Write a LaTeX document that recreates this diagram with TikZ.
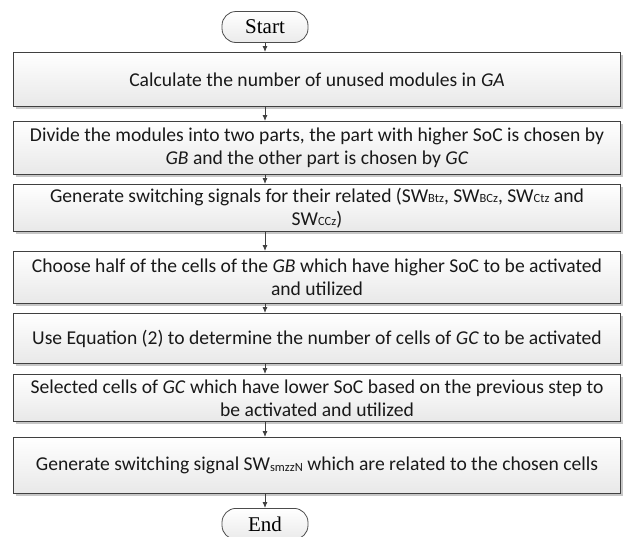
\documentclass[tikz,border=0pt]{standalone}
\usepackage{fontspec}
\setmainfont{Carlito}
\newfontfamily\tnr{Liberation Serif}
\usetikzlibrary{arrows.meta,shadows,positioning}
\tikzset{stepbox/.style={draw=black!75, line width=1.1pt, rectangle, anchor=north,
  minimum width=607pt, align=center, inner sep=0pt,
  top color=white, bottom color=black!9,
  drop shadow={shadow xshift=2.5pt, shadow yshift=-2.5pt, fill=black!22, opacity=1},
  text=black!90, font=\fontsize{19.6}{23}\selectfont},
  term/.style={draw=black!70, line width=0.8pt, rounded corners=14pt,
  minimum width=86pt, minimum height=31pt, inner sep=0pt,
  top color=white, bottom color=black!8,
  font=\tnr\fontsize{21}{22}\selectfont},
  arr/.style={draw=black!75, line width=0.9pt, -{Latex[length=6pt,width=5pt]}}}
\newcommand{\swsub}[1]{SW\raisebox{-0.5pt}{\fontsize{12.5}{12}\selectfont #1}}
\begin{document}
\begin{tikzpicture}[x=1pt,y=1pt]
  \useasboundingbox (0,0) rectangle (627,-536);
  \node[term] (start) at (265,-27) {Start};
  \node[stepbox, minimum height=54pt] (b1) at (317,-52) {Calculate the number of unused modules in \textit{GA}};
  \node[stepbox, minimum height=53pt] (b2) at (317,-121) {Divide the modules into two parts, the part with higher SoC is chosen by\\ \textit{GB} and the other part is chosen by \textit{GC}};
  \node[stepbox, minimum height=47pt] (b3) at (317,-184) {Generate switching signals for their related (\swsub{Btz}, \swsub{BCz}, \swsub{Ctz} and\\ \swsub{CCz})};
  \node[stepbox, minimum height=52pt] (b4) at (317,-251) {Choose half of the cells of the \textit{GB} which have higher SoC to be activated\\ and utilized};
  \node[stepbox, minimum height=50pt] (b5) at (317,-313) {Use Equation (2) to determine the number of cells of \textit{GC} to be activated};
  \node[stepbox, minimum height=47pt] (b6) at (317,-374) {Selected cells of \textit{GC} which have lower SoC based on the previous step to\\ be activated and utilized};
  \node[stepbox, minimum height=56pt] (b7) at (317,-437) {Generate switching signal \swsub{smzzN} which are related to the chosen cells};
  \node[term, anchor=north] (end) at (265,-508) {End};
  \draw[arr] (start) -- (start |- b1.north);
  \draw[arr] (b1.south -| start) -- (b2.north -| start);
  \draw[arr] (b2.south -| start) -- (b3.north -| start);
  \draw[arr] (b3.south -| start) -- (b4.north -| start);
  \draw[arr] (b4.south -| start) -- (b5.north -| start);
  \draw[arr] (b5.south -| start) -- (b6.north -| start);
  \draw[arr] (b6.south -| start) -- (b7.north -| start);
  \draw[arr] (b7.south -| start) -- (end);
\end{tikzpicture}
\end{document}
